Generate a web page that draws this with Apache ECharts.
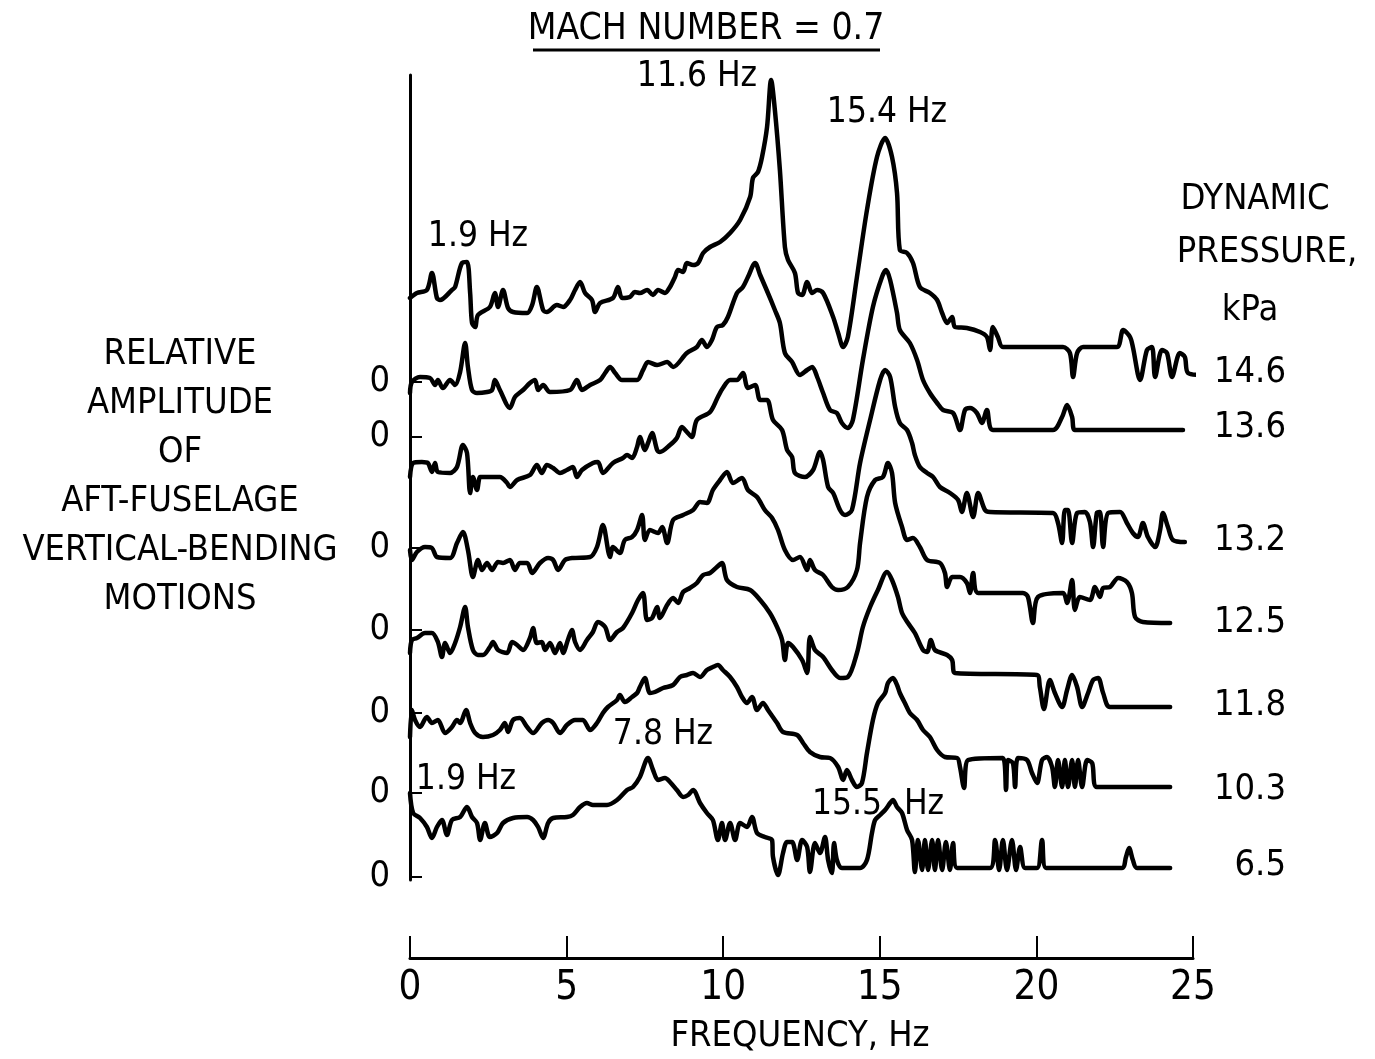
<!DOCTYPE html>
<html>
<head>
<meta charset="utf-8">
<script src="https://cdn.jsdelivr.net/npm/echarts@6/dist/echarts.min.js"></script>
<style>
html,body{margin:0;padding:0;background:#fff;}
#chart{width:1375px;height:1059px;}
</style>
</head>
<body>
<div id="chart"></div>
<script>
// ---------- DATA ----------
const pressureLabels = ["14.6", "13.6", "13.2", "12.5", "11.8", "10.3", "6.5"];
const xTicks = [0, 5, 10, 15, 20, 25];

// Each trace: [frequency Hz, relative amplitude above its own zero line]
const q146 = [[0,84],[0.22,89],[0.54,92],[0.70,109],[0.86,84],[0.96,82],[1.34,92],[1.44,95],[1.66,119],[1.82,120],[1.92,89],[1.98,59],[2.08,55],[2.17,67],[2.55,75],[2.71,89],[2.81,75],[2.97,92],[3.13,74],[3.29,70],[3.74,69],[3.90,77],[4.05,95],[4.25,72],[4.37,70],[4.69,77],[4.89,75],[5.11,82],[5.27,92],[5.43,100],[5.59,89],[5.81,82],[5.91,70],[6.07,79],[6.48,84],[6.64,95],[6.77,84],[7.02,85],[7.18,90],[7.34,89],[7.57,92],[7.76,87],[7.92,92],[8.14,89],[8.30,95],[8.46,105],[8.56,112],[8.72,110],[8.84,119],[9.04,117],[9.20,119],[9.36,129],[9.58,135],[9.90,140],[10.22,149],[10.54,162],[10.86,185],[10.95,204],[11.11,210],[11.24,225],[11.40,255],[11.53,302],[11.65,272],[11.81,212],[11.97,135],[12.07,122],[12.29,109],[12.39,89],[12.52,87],[12.68,100],[12.84,89],[13.00,92],[13.19,89],[13.51,65],[13.67,49],[13.83,35],[13.98,45],[14.27,105],[14.59,172],[14.91,225],[15.17,244],[15.39,225],[15.55,189],[15.64,132],[15.87,129],[16.06,119],[16.28,95],[16.60,89],[16.83,82],[16.99,69],[17.15,59],[17.31,65],[17.40,55],[17.78,54],[18.20,50],[18.42,45],[18.52,32],[18.61,55],[18.77,45],[18.93,35],[20.85,35],[21.07,29],[21.17,5],[21.30,29],[21.49,35],[22.57,35],[22.77,52],[22.99,45],[23.08,35],[23.31,2],[23.53,32],[23.69,35],[23.79,5],[24.01,32],[24.17,29],[24.33,5],[24.58,29],[24.74,25],[24.84,9],[25.32,7]];

const q136 = [[0,44],[0.06,55],[0.32,60],[0.64,59],[0.80,52],[0.89,57],[1.05,49],[1.28,57],[1.44,52],[1.60,65],[1.76,94],[1.85,70],[1.98,47],[2.14,44],[2.46,45],[2.62,47],[2.71,57],[2.87,47],[3.19,29],[3.35,40],[3.61,47],[3.83,54],[3.99,57],[4.09,47],[4.25,52],[4.47,45],[5.11,47],[5.33,57],[5.49,47],[5.75,52],[6.07,57],[6.23,64],[6.39,70],[6.55,64],[6.77,57],[7.25,57],[7.44,67],[7.60,75],[7.89,72],[8.21,75],[8.40,70],[8.84,84],[9.16,90],[9.32,97],[9.48,90],[9.64,97],[9.80,110],[9.99,112],[10.15,120],[10.44,144],[10.63,150],[10.79,160],[11.02,174],[11.18,162],[11.40,146],[11.65,127],[11.81,114],[11.97,84],[12.20,75],[12.45,62],[12.68,67],[12.84,70],[13.00,60],[13.19,44],[13.41,27],[13.63,24],[13.79,14],[13.98,9],[14.14,17],[14.46,77],[14.78,130],[15.07,160],[15.20,167],[15.33,157],[15.55,124],[15.64,107],[15.96,94],[16.19,77],[16.38,57],[16.60,44],[16.83,34],[17.02,27],[17.34,24],[17.56,7],[17.72,27],[17.88,29],[18.10,24],[18.26,14],[18.42,27],[18.61,7],[20.53,7],[20.82,20],[20.98,32],[21.14,20],[21.23,7],[24.68,7]];

const q132 = [[0,71],[0.10,85],[0.38,86],[0.57,85],[0.70,76],[0.80,85],[0.89,76],[1.28,75],[1.50,81],[1.69,103],[1.82,95],[1.92,55],[2.01,71],[2.14,58],[2.24,71],[2.39,71],[2.87,71],[3.10,65],[3.19,61],[3.42,68],[3.83,73],[4.05,83],[4.21,75],[4.37,83],[4.57,80],[4.79,75],[5.01,78],[5.20,81],[5.33,71],[5.49,78],[5.84,85],[6.00,86],[6.16,75],[6.48,85],[6.80,90],[6.93,93],[7.09,90],[7.25,101],[7.34,111],[7.50,98],[7.60,105],[7.73,115],[7.89,98],[7.98,96],[8.30,103],[8.52,110],[8.68,121],[8.84,116],[9.00,111],[9.16,128],[9.58,136],[9.83,151],[9.99,160],[10.22,168],[10.44,168],[10.63,175],[10.79,160],[11.02,163],[11.18,148],[11.40,148],[11.59,128],[11.88,118],[12.04,98],[12.20,91],[12.29,75],[12.61,71],[12.87,78],[13.09,96],[13.19,88],[13.35,61],[13.51,55],[13.73,38],[13.89,33],[14.11,38],[14.37,85],[14.69,128],[15.01,168],[15.17,178],[15.33,171],[15.49,141],[15.64,125],[15.87,118],[16.03,105],[16.12,93],[16.28,81],[16.51,75],[16.70,71],[16.92,61],[17.24,55],[17.50,48],[17.62,36],[17.78,55],[17.98,31],[18.14,55],[18.36,38],[18.52,36],[20.53,35],[20.69,25],[20.82,5],[20.91,38],[21.01,38],[21.14,5],[21.30,35],[21.55,36],[21.71,26],[21.81,1],[21.93,35],[22.03,36],[22.13,1],[22.29,35],[22.67,36],[22.89,25],[23.08,15],[23.24,11],[23.40,25],[23.56,11],[23.79,1],[23.95,18],[24.04,35],[24.20,21],[24.36,8],[24.74,6]];

const q125 = [[0,80],[0.06,70],[0.22,78],[0.48,83],[0.70,82],[0.86,73],[1.28,72],[1.50,87],[1.69,98],[1.85,80],[2.01,53],[2.17,70],[2.30,60],[2.46,67],[2.62,60],[2.81,68],[2.97,67],[3.19,70],[3.35,60],[3.51,67],[3.74,67],[3.90,57],[4.15,67],[4.41,72],[4.57,70],[4.73,60],[4.95,70],[5.20,72],[5.75,73],[5.97,83],[6.16,105],[6.39,73],[6.48,83],[6.70,77],[6.86,90],[7.09,93],[7.25,100],[7.41,115],[7.50,90],[7.66,100],[7.92,97],[8.05,103],[8.21,87],[8.40,110],[8.72,115],[9.04,120],[9.26,128],[9.48,127],[9.67,140],[9.90,150],[10.12,158],[10.31,147],[10.60,152],[10.79,140],[11.08,133],[11.33,120],[11.56,112],[11.75,100],[11.97,80],[12.23,70],[12.45,73],[12.68,60],[12.77,70],[12.93,60],[13.19,55],[13.47,43],[13.67,40],[13.98,43],[14.27,60],[14.37,87],[14.59,133],[14.85,150],[15.10,153],[15.26,167],[15.39,157],[15.49,127],[15.71,103],[15.87,90],[16.06,92],[16.28,83],[16.51,70],[16.92,67],[17.08,57],[17.15,43],[17.31,53],[17.56,53],[17.78,47],[17.88,37],[17.98,57],[18.14,37],[19.57,37],[19.73,33],[19.89,7],[20.05,33],[20.85,37],[20.98,27],[21.14,50],[21.23,20],[21.39,33],[21.71,30],[21.87,43],[22.03,33],[22.13,42],[22.35,43],[22.61,52],[22.89,48],[23.05,37],[23.15,13],[23.40,8],[24.27,7]];

const q118 = [[0,60],[0.06,73],[0.22,75],[0.48,80],[0.70,80],[0.89,71],[1.02,56],[1.12,70],[1.28,60],[1.44,70],[1.60,86],[1.76,106],[1.85,86],[2.01,63],[2.17,58],[2.33,58],[2.55,66],[2.65,71],[2.81,63],[3.10,60],[3.26,71],[3.42,68],[3.61,63],[3.83,75],[3.93,85],[4.05,70],[4.21,71],[4.31,63],[4.47,70],[4.63,60],[4.79,70],[4.89,60],[5.04,73],[5.17,83],[5.27,71],[5.43,63],[5.65,73],[5.84,81],[6.00,91],[6.23,86],[6.39,73],[6.61,81],[6.80,85],[7.09,100],[7.28,113],[7.44,120],[7.57,93],[7.73,95],[7.89,106],[7.98,95],[8.21,108],[8.40,115],[8.56,110],[8.72,121],[8.94,125],[9.16,130],[9.36,138],[9.58,140],[9.80,146],[9.96,150],[10.12,133],[10.44,126],[10.86,123],[11.18,113],[11.49,100],[11.72,86],[11.88,73],[11.97,53],[12.07,70],[12.23,66],[12.52,53],[12.68,40],[12.77,76],[12.93,63],[13.19,56],[13.47,43],[13.73,35],[13.98,36],[14.27,60],[14.46,86],[14.69,106],[14.94,123],[15.23,141],[15.39,133],[15.58,116],[15.71,100],[15.90,90],[16.12,80],[16.38,63],[16.51,61],[16.63,73],[16.76,63],[17.15,58],[17.31,53],[17.40,40],[20.02,38],[20.11,26],[20.24,4],[20.43,33],[20.59,20],[20.82,6],[20.98,23],[21.14,38],[21.30,26],[21.46,6],[21.65,20],[21.81,33],[21.97,35],[22.13,20],[22.35,6],[24.27,6]];

const q103 = [[0,56],[0.06,83],[0.16,73],[0.32,66],[0.54,76],[0.70,70],[0.89,73],[1.12,60],[1.34,66],[1.50,73],[1.60,70],[1.79,83],[1.92,70],[2.08,60],[2.33,56],[2.65,58],[2.87,63],[3.03,70],[3.13,61],[3.29,73],[3.51,75],[3.74,66],[3.93,60],[4.21,70],[4.41,73],[4.57,70],[4.79,60],[5.01,68],[5.27,73],[5.52,73],[5.75,63],[5.97,70],[6.16,80],[6.32,86],[6.61,93],[6.70,98],[6.86,91],[7.09,96],[7.25,100],[7.34,106],[7.50,115],[7.66,100],[7.82,101],[8.08,105],[8.40,108],[8.62,116],[8.84,118],[9.04,120],[9.26,116],[9.48,123],[9.67,126],[9.83,128],[9.99,123],[10.22,116],[10.44,106],[10.60,96],[10.76,90],[10.92,96],[11.08,83],[11.27,90],[11.43,83],[11.72,70],[11.91,61],[12.36,58],[12.55,50],[12.77,41],[13.09,36],[13.41,35],[13.67,26],[13.83,13],[13.95,23],[14.11,13],[14.27,6],[14.43,10],[14.59,40],[14.78,73],[14.94,90],[15.17,100],[15.26,110],[15.42,115],[15.55,108],[15.64,100],[15.80,90],[15.96,80],[16.19,73],[16.38,63],[16.60,56],[16.83,43],[17.08,36],[17.47,35],[17.56,26],[17.69,5],[17.82,33],[18.93,35],[19.03,3],[19.09,33],[19.25,30],[19.32,6],[19.41,35],[19.70,33],[19.86,20],[20.02,10],[20.18,33],[20.34,36],[20.50,26],[20.59,6],[20.69,33],[20.82,6],[20.91,33],[21.01,6],[21.14,33],[21.23,6],[21.33,33],[21.46,6],[21.62,33],[21.78,30],[21.93,6],[24.27,6]];

const q65 = [[0,84],[0.10,64],[0.32,59],[0.54,50],[0.70,39],[0.86,50],[1.02,57],[1.18,42],[1.34,57],[1.60,60],[1.82,70],[1.98,60],[2.14,54],[2.24,37],[2.39,54],[2.55,40],[2.78,44],[2.97,54],[3.29,59],[3.74,60],[3.93,57],[4.09,50],[4.25,39],[4.41,54],[4.57,59],[5.01,60],[5.20,62],[5.43,70],[5.65,74],[5.84,72],[6.29,72],[6.61,77],[6.93,87],[7.12,90],[7.34,100],[7.60,119],[7.76,107],[7.92,97],[8.14,99],[8.30,95],[8.52,87],[8.72,80],[8.88,82],[9.04,87],[9.26,74],[9.48,64],[9.67,57],[9.83,37],[9.96,54],[10.06,37],[10.22,54],[10.38,37],[10.54,54],[10.76,50],[10.92,60],[11.08,44],[11.33,40],[11.56,37],[11.59,20],[11.75,2],[11.91,24],[12.04,35],[12.20,35],[12.36,17],[12.52,37],[12.68,30],[12.77,5],[12.93,34],[13.09,24],[13.25,40],[13.35,17],[13.47,4],[13.54,34],[13.63,17],[13.79,9],[14.37,9],[14.59,17],[14.75,44],[14.85,57],[15.01,62],[15.17,67],[15.33,74],[15.42,77],[15.55,70],[15.71,64],[15.87,47],[16.03,37],[16.12,5],[16.22,37],[16.35,7],[16.44,37],[16.54,7],[16.67,37],[16.76,7],[16.86,37],[16.99,7],[17.11,35],[17.24,7],[17.34,34],[17.47,9],[18.52,9],[18.68,37],[18.81,7],[18.93,37],[19.06,7],[19.22,37],[19.35,7],[19.48,30],[19.64,9],[20.02,9],[20.18,37],[20.31,9],[22.73,9],[22.86,20],[22.96,29],[23.08,17],[23.21,9],[24.27,9]];

// ---------- LAYOUT (waterfall zero line of each trace, in axis units) ----------
const traces = [q146, q136, q132, q125, q118, q103, q65];
const zeroLevels = [498, 443, 332, 250, 167, 87, 3];

const FONT = "'DejaVu Sans Condensed','DejaVu Sans',sans-serif";
const chart = echarts.init(document.getElementById('chart'), null, {renderer: 'canvas'});

const series = traces.map((pts, i) => ({
  type: 'line',
  data: pts.map(p => [p[0], p[1] + zeroLevels[i]]),
  showSymbol: false,
  symbol: 'none',
  smooth: 0.3,
  clip: false,
  lineStyle: {color: '#000', width: 4.5, join: 'round', cap: 'round'},
  silent: true,
  z: 3
}));

function txt(text, x, y, size, align) {
  return {
    type: 'text', x: x, y: y, silent: true,
    style: {
      text: text, font: 'normal ' + size + 'px ' + FONT, fill: '#000',
      align: align || 'center', verticalAlign: 'middle',
      textAlign: align || 'center', textVerticalAlign: 'middle'
    }
  };
}

const leftTitle = ["RELATIVE", "AMPLITUDE", "OF", "AFT-FUSELAGE", "VERTICAL-BENDING", "MOTIONS"];
const rightTitle = ["DYNAMIC", "PRESSURE,", "kPa"];
const pressureY = [373, 428, 541, 623, 706, 790, 866];

const graphics = [];
graphics.push(txt("MACH NUMBER = 0.7", 706, 29, 37));
graphics.push({type: 'line', silent: true, shape: {x1: 533, y1: 50, x2: 880, y2: 50}, style: {stroke: '#000', lineWidth: 3}});
leftTitle.forEach((t, i) => graphics.push(txt(t, 180, 355 + i * 49, 36)));
graphics.push(txt(rightTitle[0], 1255, 200, 36));
graphics.push(txt(rightTitle[1], 1267, 253, 36));
graphics.push(txt(rightTitle[2], 1250, 311, 36));
pressureLabels.forEach((t, i) => graphics.push(txt(t, 1286, pressureY[i], 36, 'right')));
graphics.push(txt("FREQUENCY, Hz", 800, 1037, 36));
graphics.push(txt("1.9 Hz", 478, 237, 35));
graphics.push(txt("11.6 Hz", 697, 77, 35));
graphics.push(txt("15.4 Hz", 887, 113, 35));
graphics.push(txt("7.8 Hz", 663, 735, 35));
graphics.push(txt("1.9 Hz", 466, 780, 35));
graphics.push(txt("15.5", 847, 805, 35));
graphics.push(txt("Hz", 924, 805, 35));

chart.setOption({
  animation: false,
  backgroundColor: '#fff',
  grid: {left: 410, right: 182, top: 75, bottom: 179, containLabel: false},
  xAxis: {
    type: 'value', min: 0, max: 25, interval: 5, offset: 78,
    axisLine: {show: true, onZero: false, lineStyle: {color: '#000', width: 3}},
    axisTick: {show: true, inside: true, length: 22, lineStyle: {color: '#000', width: 2}},
    axisLabel: {show: true, color: '#000', fontSize: 40, fontFamily: FONT, margin: 11,
      customValues: xTicks, formatter: v => String(v)},
    splitLine: {show: false}
  },
  yAxis: {
    type: 'value', min: 0, max: 805,
    axisLine: {show: true, onZero: false, lineStyle: {color: '#000', width: 3}},
    axisTick: {show: true, inside: true, length: 12, customValues: zeroLevels, lineStyle: {color: '#000', width: 2}},
    axisLabel: {show: true, color: '#000', fontSize: 36, fontFamily: FONT, margin: 20,
      customValues: zeroLevels, formatter: () => '0'},
    splitLine: {show: false}
  },
  graphic: graphics,
  series: series
});
</script>
</body>
</html>
